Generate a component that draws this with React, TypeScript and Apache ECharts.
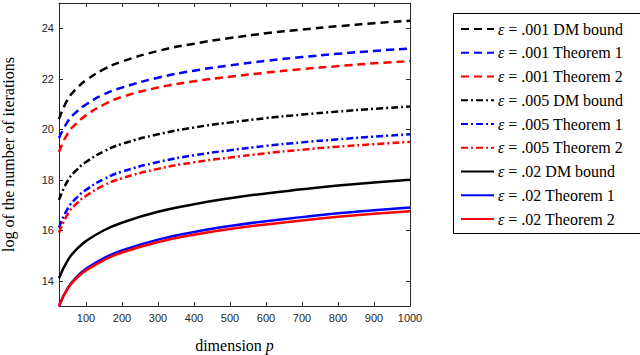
import React, { useEffect, useRef } from "react";
import * as echarts from "echarts";

const dims = [25, 50, 75, 100, 150, 200, 300, 400, 500, 600, 700, 800, 900, 1000];
const dm001 = [20.4, 21.2, 21.63, 21.94, 22.38, 22.68, 23.1, 23.39, 23.61, 23.8, 23.95, 24.08, 24.2, 24.3];
const th1001 = [19.65, 20.32, 20.71, 20.98, 21.38, 21.65, 22.04, 22.32, 22.53, 22.71, 22.86, 22.99, 23.1, 23.2];
const th2001 = [19.1, 19.85, 20.25, 20.55, 20.98, 21.28, 21.65, 21.9, 22.08, 22.24, 22.38, 22.5, 22.61, 22.7];
const dm005 = [17.2, 17.98, 18.4, 18.7, 19.13, 19.42, 19.8, 20.07, 20.27, 20.44, 20.58, 20.7, 20.81, 20.9];
const th1005 = [16.1, 16.88, 17.3, 17.6, 18.03, 18.32, 18.7, 18.97, 19.17, 19.34, 19.48, 19.6, 19.71, 19.8];
const th2005 = [15.9, 16.66, 17.07, 17.36, 17.78, 18.06, 18.43, 18.69, 18.88, 19.05, 19.19, 19.31, 19.41, 19.5];
const dm02 = [14.1, 14.83, 15.26, 15.57, 16.0, 16.3, 16.73, 17.03, 17.27, 17.46, 17.62, 17.77, 17.89, 18.0];
const th102 = [13.0, 13.73, 14.16, 14.47, 14.9, 15.2, 15.63, 15.93, 16.17, 16.36, 16.52, 16.67, 16.79, 16.9];
const th202 = [13.0, 13.71, 14.12, 14.41, 14.82, 15.12, 15.53, 15.82, 16.05, 16.23, 16.39, 16.53, 16.65, 16.75];

const xTicks = [100, 200, 300, 400, 500, 600, 700, 800, 900, 1000];
const yTicks = [14, 16, 18, 20, 22, 24];

const seriesNames = [
  "ε = .001 DM bound",
  "ε = .001 Theorem 1",
  "ε = .001 Theorem 2",
  "ε = .005 DM bound",
  "ε = .005 Theorem 1",
  "ε = .005 Theorem 2",
  "ε = .02 DM bound",
  "ε = .02 Theorem 1",
  "ε = .02 Theorem 2",
];
const seriesValues = [dm001, th1001, th2001, dm005, th1005, th2005, dm02, th102, th202];
const seriesColors = ["#000000", "#0000ff", "#ff0000", "#000000", "#0000ff", "#ff0000", "#000000", "#0000ff", "#ff0000"];
const dashed = [8, 5];
const dashDot = [7, 3, 2, 3];
const seriesDash: any[] = [dashed, dashed, dashed, dashDot, dashDot, dashDot, "solid", "solid", "solid"];

const serif = "'Liberation Serif', 'DejaVu Serif', serif";
const sans = "'Liberation Sans', Arial, sans-serif";
const axisColor = "#262626";

export default function App() {
  const ref = useRef<HTMLDivElement>(null);
  useEffect(() => {
    if (!ref.current) return;
    const chart = echarts.init(ref.current, undefined, { renderer: "svg" });
    const axisCommon = {
      type: "value" as const,
      axisLine: { show: true, onZero: false, lineStyle: { color: axisColor, width: 1 } },
      splitLine: { show: false },
    };
    chart.setOption({
      animation: false,
      backgroundColor: "#ffffff",
      grid: { left: 59, right: 230, top: 3, bottom: 49, outerBoundsMode: "none", containLabel: false },
      graphic: [
        {
          type: "rect",
          shape: { x: 453.5, y: 13.5, width: 190, height: 220 },
          style: { fill: "#ffffff", stroke: "#000000", lineWidth: 1 },
          z: -1,
        },
      ],
      legend: {
        orient: "vertical",
        left: 460,
        top: 21,
        itemWidth: 33,
        itemHeight: 16,
        itemGap: 7.75,
        padding: 0,
        data: seriesNames,
        itemStyle: { opacity: 0 },
        formatter: (name: string) => name.replace("ε", "{i|ε}"),
        textStyle: {
          fontFamily: serif,
          fontSize: 16,
          lineHeight: 16,
          color: "#000000",
          padding: [0, 0, 0, -1],
          rich: { i: { fontFamily: serif, fontStyle: "italic", fontSize: 16, lineHeight: 16, color: "#000000" } },
        },
      },
      xAxis: [
        {
          ...axisCommon,
          min: 25,
          max: 1000,
          name: "dimension {i|p}",
          nameLocation: "middle",
          nameGap: 31,
          nameTextStyle: {
            fontFamily: serif,
            fontSize: 16,
            lineHeight: 16,
            color: "#000000",
            rich: { i: { fontFamily: serif, fontStyle: "italic", fontSize: 16, lineHeight: 16, color: "#000000" } },
          },
          axisTick: { show: true, inside: true, length: 4, customValues: xTicks, lineStyle: { color: axisColor } },
          axisLabel: {
            customValues: xTicks,
            formatter: (v: number) => String(v),
            fontFamily: sans,
            fontSize: 11,
            color: axisColor,
            margin: 6,
          },
        },
        {
          ...axisCommon,
          position: "top",
          min: 25,
          max: 1000,
          axisTick: { show: true, inside: true, length: 4, customValues: xTicks, lineStyle: { color: axisColor } },
          axisLabel: { show: false },
        },
      ],
      yAxis: [
        {
          ...axisCommon,
          min: 13,
          max: 25,
          name: "log of the number of iterations",
          nameLocation: "middle",
          nameGap: 43,
          nameTextStyle: { fontFamily: serif, fontSize: 16, lineHeight: 16, color: "#000000" },
          axisTick: { show: true, inside: true, length: 4, customValues: yTicks, lineStyle: { color: axisColor } },
          axisLabel: { customValues: yTicks, fontFamily: sans, fontSize: 11, color: axisColor, margin: 5 },
        },
        {
          ...axisCommon,
          position: "right",
          min: 13,
          max: 25,
          axisTick: { show: true, inside: true, length: 4, customValues: yTicks, lineStyle: { color: axisColor } },
          axisLabel: { show: false },
        },
      ],
      series: seriesNames.map((name, i) => ({
        name,
        type: "line",
        xAxisIndex: 0,
        yAxisIndex: 0,
        smooth: true,
        symbol: "none",
        color: seriesColors[i],
        lineStyle: { color: seriesColors[i], width: 2.5, type: seriesDash[i] },
        data: dims.map((d, j) => [d, seriesValues[i][j]]),
      })),
    });
    return () => chart.dispose();
  }, []);
  return <div ref={ref} style={{ position: "fixed", left: 0, top: 0, width: 640, height: 355 }} />;
}
